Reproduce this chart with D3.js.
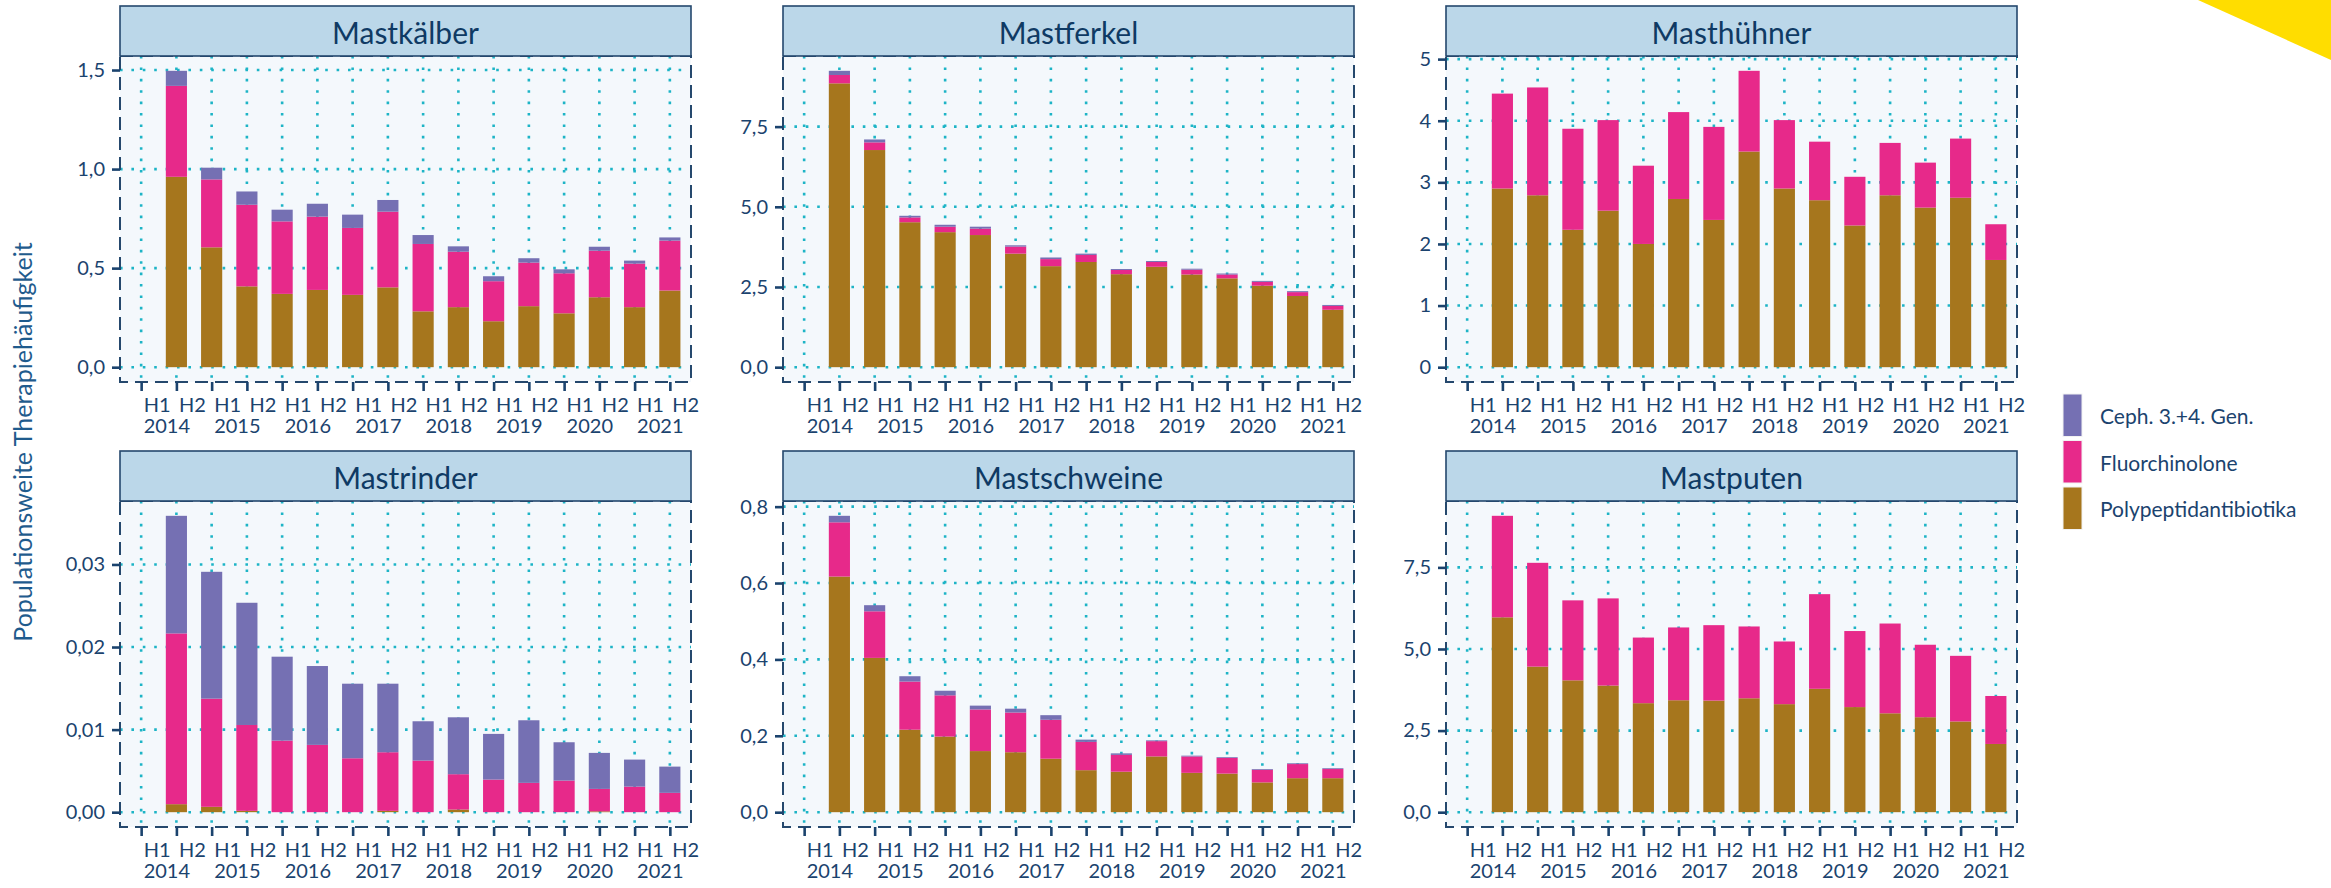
<!DOCTYPE html>
<html>
<head>
<meta charset="utf-8">
<script src="https://cdn.jsdelivr.net/npm/d3@7"></script>
<style>
  body { margin: 0; background: #ffffff; }
  svg { display: block; }
  text { font-family: Lato, "Open Sans", "Noto Sans", sans-serif; }
</style>
</head>
<body>
<svg id="chart" width="2331" height="888"></svg>
<script>
// Half-year periods on the x axis (H1 2014 has no data)
const periods = [
  "2014-H1","2014-H2","2015-H1","2015-H2","2016-H1","2016-H2","2017-H1","2017-H2",
  "2018-H1","2018-H2","2019-H1","2019-H2","2020-H1","2020-H2","2021-H1","2021-H2"
];
const halfLabels = ["H1","H2","H1","H2","H1","H2","H1","H2","H1","H2","H1","H2","H1","H2","H1","H2"];
const yearLabels = ["2014","","2015","","2016","","2017","","2018","","2019","","2020","","2021",""];

// Antibiotic classes, stacked bottom to top
const seriesKeys = ["Polypeptidantibiotika", "Fluorchinolone", "Ceph. 3.+4. Gen."];
const seriesColors = ["#a6761d", "#e7298a", "#7570b3"];
const legendKeys = ["Ceph. 3.+4. Gen.", "Fluorchinolone", "Polypeptidantibiotika"];

const animals = ["Mastkälber", "Mastferkel", "Masthühner", "Mastrinder", "Mastschweine", "Mastputen"];

// Mastkälber
const kaelberPoly  = [null, 0.961, 0.605, 0.408, 0.370, 0.390, 0.365, 0.403, 0.282, 0.303, 0.232, 0.308, 0.272, 0.353, 0.303, 0.387];
const kaelberFluor = [null, 0.459, 0.343, 0.412, 0.366, 0.370, 0.338, 0.382, 0.340, 0.280, 0.202, 0.220, 0.202, 0.235, 0.220, 0.252];
const kaelberCeph  = [null, 0.076, 0.059, 0.067, 0.059, 0.065, 0.067, 0.059, 0.045, 0.027, 0.025, 0.022, 0.020, 0.020, 0.015, 0.016];

// Mastferkel
const ferkelPoly  = [null, 8.85, 6.77, 4.52, 4.21, 4.12, 3.54, 3.15, 3.28, 2.90, 3.13, 2.89, 2.77, 2.54, 2.22, 1.79];
const ferkelFluor = [null, 0.26, 0.24, 0.15, 0.17, 0.20, 0.22, 0.22, 0.22, 0.13, 0.15, 0.15, 0.12, 0.12, 0.12, 0.12];
const ferkelCeph  = [null, 0.13, 0.09, 0.05, 0.06, 0.06, 0.04, 0.05, 0.04, 0.03, 0.03, 0.03, 0.03, 0.03, 0.03, 0.03];

// Masthühner
const huehnerPoly  = [null, 2.90, 2.79, 2.23, 2.54, 2.00, 2.73, 2.39, 3.50, 2.90, 2.71, 2.30, 2.79, 2.59, 2.75, 1.74];
const huehnerFluor = [null, 1.54, 1.75, 1.64, 1.47, 1.27, 1.41, 1.51, 1.31, 1.11, 0.95, 0.79, 0.85, 0.73, 0.96, 0.58];
const huehnerCeph  = [null, 0, 0, 0, 0, 0, 0, 0, 0, 0, 0, 0, 0, 0, 0, 0];

// Mastrinder
const rinderPoly  = [null, 0.00097, 0.00065, 0.00016, 0, 0, 0, 0.00016, 0, 0.00032, 0, 0, 0, 0.0001, 0, 0];
const rinderFluor = [null, 0.02068, 0.01310, 0.01040, 0.00867, 0.00815, 0.00653, 0.00710, 0.00625, 0.00428, 0.00395, 0.00355, 0.00383, 0.00272, 0.00310, 0.00234];
const rinderCeph  = [null, 0.01424, 0.01536, 0.01480, 0.01016, 0.00955, 0.00903, 0.00830, 0.00476, 0.00689, 0.00553, 0.00758, 0.00464, 0.00436, 0.00327, 0.00318];

// Mastschweine
const schweinePoly  = [null, 0.617, 0.404, 0.216, 0.198, 0.160, 0.157, 0.140, 0.110, 0.106, 0.146, 0.103, 0.101, 0.078, 0.089, 0.089];
const schweineFluor = [null, 0.142, 0.122, 0.126, 0.108, 0.109, 0.104, 0.102, 0.074, 0.044, 0.040, 0.043, 0.041, 0.033, 0.037, 0.024];
const schweineCeph  = [null, 0.017, 0.016, 0.014, 0.012, 0.010, 0.010, 0.012, 0.006, 0.004, 0.002, 0.002, 0.002, 0.002, 0.002, 0.002];

// Mastputen
const putenPoly  = [null, 5.97, 4.46, 4.04, 3.88, 3.34, 3.43, 3.42, 3.49, 3.31, 3.78, 3.22, 3.03, 2.91, 2.78, 2.09];
const putenFluor = [null, 3.11, 3.18, 2.45, 2.67, 2.01, 2.23, 2.31, 2.20, 1.92, 2.90, 2.33, 2.75, 2.22, 2.01, 1.47];
const putenCeph  = [null, 0, 0, 0, 0, 0, 0, 0, 0, 0, 0, 0, 0, 0, 0, 0];

// y-axis ticks per panel
const kaelberTicks  = [0, 0.5, 1.0, 1.5];
const kaelberTickLabels  = ["0,0", "0,5", "1,0", "1,5"];
const ferkelTicks   = [0, 2.5, 5.0, 7.5];
const ferkelTickLabels   = ["0,0", "2,5", "5,0", "7,5"];
const huehnerTicks  = [0, 1, 2, 3, 4, 5];
const huehnerTickLabels  = ["0", "1", "2", "3", "4", "5"];
const rinderTicks   = [0, 0.01, 0.02, 0.03];
const rinderTickLabels   = ["0,00", "0,01", "0,02", "0,03"];
const schweineTicks = [0, 0.2, 0.4, 0.6, 0.8];
const schweineTickLabels = ["0,0", "0,2", "0,4", "0,6", "0,8"];
const putenTicks    = [0, 2.5, 5.0, 7.5];
const putenTickLabels    = ["0,0", "2,5", "5,0", "7,5"];

const panelSeries = [
  [kaelberPoly, kaelberFluor, kaelberCeph],
  [ferkelPoly, ferkelFluor, ferkelCeph],
  [huehnerPoly, huehnerFluor, huehnerCeph],
  [rinderPoly, rinderFluor, rinderCeph],
  [schweinePoly, schweineFluor, schweineCeph],
  [putenPoly, putenFluor, putenCeph]
];
const panelTicks = [kaelberTicks, ferkelTicks, huehnerTicks, rinderTicks, schweineTicks, putenTicks];
const panelTickLabels = [kaelberTickLabels, ferkelTickLabels, huehnerTickLabels, rinderTickLabels, schweineTickLabels, putenTickLabels];

// ---- layout ----
const colLeft = [120, 783, 1446];
const rowTop = [6, 451];
const panelW = 571, stripH = 50, plotH = 326;

const ink = "#1b436e";
const gridColor = "#1db4c6";
const borderColor = "#25486d";

const svg = d3.select("#chart");

// corner accent
svg.append("polygon")
  .attr("points", "2198,0 2331,0 2331,60")
  .attr("fill", "#ffdd00");

animals.forEach((name, i) => {
  const left = colLeft[i % 3];
  const stripTop = rowTop[Math.floor(i / 3)];
  const top = stripTop + stripH;
  const bottom = top + plotH;
  const right = left + panelW;

  const rows = periods.map((p, j) => {
    const r = { period: p };
    seriesKeys.forEach((k, s) => { r[k] = panelSeries[i][s][j] ?? 0; });
    r.hasData = panelSeries[i][0][j] !== null;
    return r;
  });
  const stacked = d3.stack().keys(seriesKeys)(rows);
  const maxTotal = d3.max(stacked[stacked.length - 1], d => d[1]);

  const x = d3.scalePoint().domain(periods).range([left, right]).padding(0.6);
  const y = d3.scaleLinear().domain([-0.05 * maxTotal, 1.05 * maxTotal]).range([bottom, top]);
  const barW = x.step() * 0.6;

  const g = svg.append("g");

  // panel background
  g.append("rect")
    .attr("x", left).attr("y", top).attr("width", panelW).attr("height", plotH)
    .attr("fill", "#f4f8fc");

  // dotted grid
  const grid = g.append("g")
    .attr("stroke", gridColor).attr("stroke-width", 2.6)
    .attr("stroke-dasharray", "2.6 8.8").attr("fill", "none");
  grid.selectAll("line.h").data(panelTicks[i]).join("line")
    .attr("class", "h")
    .attr("x1", left).attr("x2", right)
    .attr("y1", d => y(d)).attr("y2", d => y(d));
  grid.selectAll("line.v").data(periods).join("line")
    .attr("class", "v")
    .attr("x1", d => x(d)).attr("x2", d => x(d))
    .attr("y1", top).attr("y2", bottom);

  // stacked bars
  stacked.forEach((layer, s) => {
    g.append("g").attr("fill", seriesColors[s])
      .selectAll("rect").data(layer.filter(d => d.data.hasData)).join("rect")
      .attr("x", d => x(d.data.period) - barW / 2)
      .attr("width", barW)
      .attr("y", d => y(d[1]))
      .attr("height", d => Math.max(0, y(d[0]) - y(d[1])));
  });

  // dashed panel border
  g.append("rect")
    .attr("x", left).attr("y", top).attr("width", panelW).attr("height", plotH)
    .attr("fill", "none").attr("stroke", borderColor)
    .attr("stroke-width", 2).attr("stroke-dasharray", "13 7");

  // strip
  g.append("rect")
    .attr("x", left).attr("y", stripTop).attr("width", panelW).attr("height", stripH)
    .attr("fill", "#bbd7e9").attr("stroke", borderColor).attr("stroke-width", 1.6);
  g.append("text")
    .attr("x", left + panelW / 2).attr("y", stripTop + stripH / 2 + 1)
    .attr("text-anchor", "middle").attr("dominant-baseline", "central")
    .attr("font-size", 30).attr("fill", "#0f3a64")
    .text(name);

  // y axis
  const yAxis = g.append("g")
    .attr("transform", `translate(${left},0)`)
    .call(d3.axisLeft(y).tickValues(panelTicks[i])
      .tickFormat((d, k) => panelTickLabels[i][k])
      .tickSize(8).tickPadding(7));
  yAxis.select(".domain").remove();
  yAxis.selectAll(".tick line").attr("stroke", ink).attr("stroke-width", 2.6);
  yAxis.selectAll(".tick text").attr("fill", ink).attr("font-size", 20)
    .style("font-family", "Lato, 'Open Sans', sans-serif");

  // x axis
  const xAxis = g.append("g")
    .attr("transform", `translate(0,${bottom})`)
    .call(d3.axisBottom(x).tickSize(9).tickFormat(""));
  xAxis.select(".domain").remove();
  xAxis.selectAll(".tick line").attr("stroke", ink).attr("stroke-width", 2.6);
  xAxis.selectAll(".tick text").remove();
  xAxis.selectAll(".tick").each(function (d, k) {
    const t = d3.select(this).append("text")
      .attr("x", 2).attr("fill", ink).attr("font-size", 20)
      .attr("text-anchor", "start");
    t.append("tspan").attr("x", 2).attr("y", 30).text(halfLabels[k]);
    if (yearLabels[k]) t.append("tspan").attr("x", 2).attr("y", 51).text(yearLabels[k]);
  });
});

// shared y-axis title
svg.append("text")
  .attr("transform", "translate(32,442) rotate(-90)")
  .attr("text-anchor", "middle")
  .attr("font-size", 25).attr("fill", "#1f5b8d")
  .text("Populationsweite Therapiehäufigkeit");

// legend
const legend = svg.append("g").attr("transform", "translate(2063,394)");
legendKeys.forEach((k, idx) => {
  const s = seriesKeys.indexOf(k);
  legend.append("rect")
    .attr("x", 0).attr("y", idx * 46.5).attr("width", 19).attr("height", 42.5)
    .attr("fill", seriesColors[s]).attr("stroke", "#f2f2f2").attr("stroke-width", 1);
  legend.append("text")
    .attr("x", 37).attr("y", idx * 46.5 + 21.5)
    .attr("dominant-baseline", "central")
    .attr("font-size", 21).attr("fill", "#1b436e")
    .text(k);
});
</script>
</body>
</html>
